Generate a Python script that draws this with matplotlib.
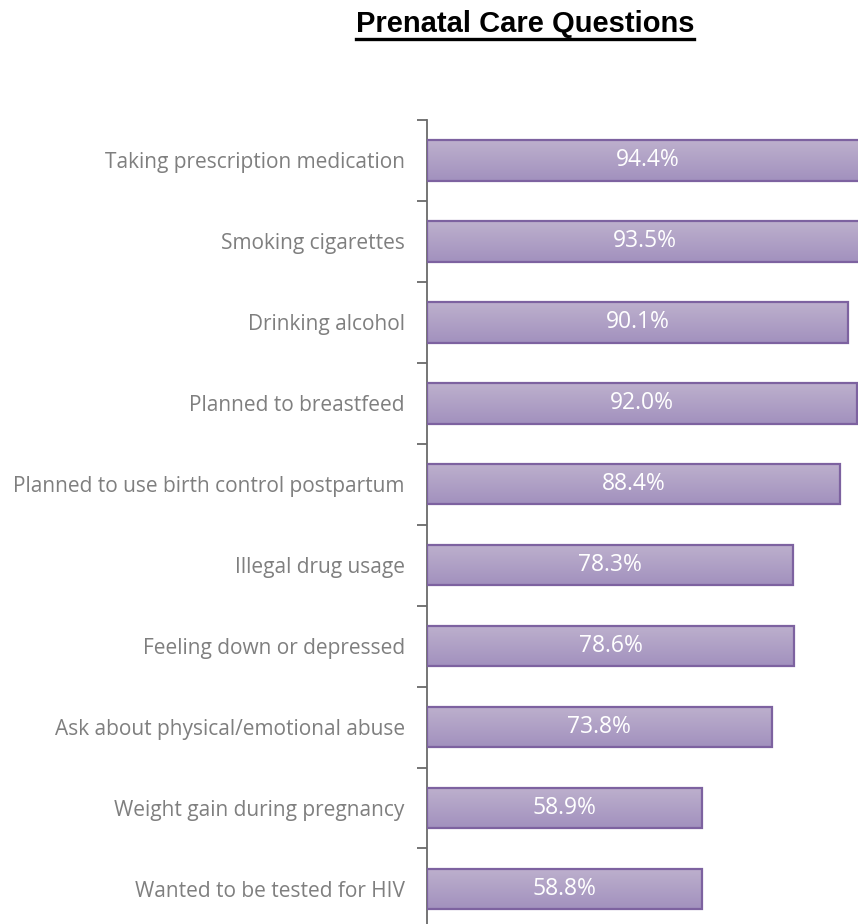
#%% Libraries
import numpy as np
import matplotlib
matplotlib.use('Agg')
import matplotlib.pyplot as plt
from matplotlib.colors import LinearSegmentedColormap
from matplotlib.lines import Line2D

#%% Data
questions = ['Taking prescription medication', 'Smoking cigarettes', 'Drinking alcohol',
             'Planned to breastfeed', 'Planned to use birth control postpartum',
             'Illegal drug usage', 'Feeling down or depressed',
             'Ask about physical/emotional abuse', 'Weight gain during pregnancy',
             'Wanted to be tested for HIV']
percent = [94.4, 93.5, 90.1, 92.0, 88.4, 78.3, 78.6, 73.8, 58.9, 58.8]

#%% Figure
W, H = 858, 924
fig = plt.figure(figsize=(W / 100, H / 100), dpi=100)
# axes runs off the right and bottom edge like the original export
ax = fig.add_axes([427 / W, -5.4 / H, 467 / W, 809.4 / H])

n = len(questions)
ypos = np.arange(n)
bar_h = 0.5
grad = LinearSegmentedColormap.from_list('purp', ['#bdb0cd', '#a291be'])
bars = ax.barh(ypos, percent, height=bar_h, color='none', edgecolor='#7d62a0', linewidth=1.6, zorder=3)
for b, v, y in zip(bars, percent, ypos):
    img = ax.imshow(np.linspace(0, 1, 50).reshape(-1, 1), cmap=grad, aspect='auto',
                    extent=[0, v, y + bar_h / 2, y - bar_h / 2], zorder=2)
    img.set_clip_path(b)
    ax.text(v / 2, y, f'{v:.1f}%', ha='center', va='center', color='white',
            fontsize=16.5, family='Open Sans', zorder=4)

ax.set_xlim(0, 100)
ax.set_ylim(n - 0.5, -0.5)
ax.set_yticks(ypos)
ax.set_yticklabels(questions, fontsize=15, color='#7f7f7f', family='Open Sans')
ax.tick_params(axis='y', which='major', length=0, pad=16)
ax.set_yticks(np.arange(n + 1) - 0.5, minor=True)
ax.tick_params(axis='y', which='minor', length=7, width=1.3, color='#6a6a6a')
ax.set_xticks([])
for s in ['top', 'right', 'bottom']:
    ax.spines[s].set_visible(False)
ax.spines['left'].set_color('#6a6a6a')
ax.spines['left'].set_linewidth(1.3)

# underlined title
t = fig.text(525 / W, 1 - 24 / H, 'Prenatal Care Questions', ha='center', va='center',
             fontsize=21, fontweight='bold', family='Liberation Sans')
fig.canvas.draw()
bb = t.get_window_extent().transformed(fig.transFigure.inverted())
fig.add_artist(Line2D([bb.x0, bb.x1], [bb.y0 - 1 / H, bb.y0 - 1 / H], color='black',
                      linewidth=2.4, transform=fig.transFigure))

fig.savefig('out.png', dpi=100, facecolor='w')
